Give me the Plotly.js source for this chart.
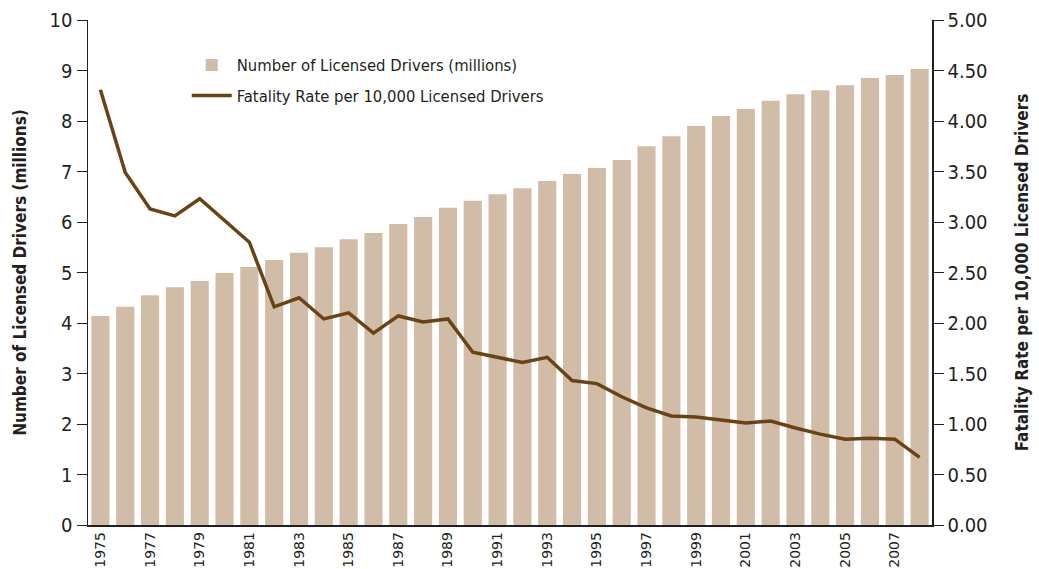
<!DOCTYPE html>
<html>
<head>
<meta charset="utf-8">
<script src="https://cdn.plot.ly/plotly-3.0.1.min.js"></script>
<style>html,body{margin:0;padding:0;background:#fff;}#chart{width:1039px;height:569px;}</style>
</head>
<body>
<div id="chart"></div>
<script>
const years = [1975,1976,1977,1978,1979,1980,1981,1982,1983,1984,1985,1986,1987,1988,1989,1990,1991,1992,1993,1994,1995,1996,1997,1998,1999,2000,2001,2002,2003,2004,2005,2006,2007,2008];
const drivers = [4.14,4.32,4.55,4.71,4.83,4.99,5.11,5.25,5.39,5.50,5.66,5.78,5.96,6.10,6.28,6.42,6.55,6.67,6.81,6.95,7.07,7.23,7.50,7.70,7.90,8.10,8.24,8.40,8.53,8.61,8.71,8.85,8.91,9.03];
const rate = [4.31,3.49,3.13,3.06,3.23,3.02,2.80,2.16,2.25,2.04,2.10,1.90,2.07,2.01,2.04,1.71,1.66,1.61,1.66,1.43,1.40,1.27,1.16,1.08,1.07,1.04,1.01,1.03,0.96,0.90,0.85,0.86,0.85,0.67];
const xTicks = [1975,1977,1979,1981,1983,1985,1987,1989,1991,1993,1995,1997,1999,2001,2003,2005,2007];
const leftTicks = [0,1,2,3,4,5,6,7,8,9,10];
const rightTicks = [0,0.5,1,1.5,2,2.5,3,3.5,4,4.5,5];

const NARROW = "'Liberation Sans Narrow', 'DejaVu Sans Condensed', 'Arial Narrow', sans-serif";

const traces = [
  {type:'bar', x:years, y:drivers, name:'Number of Licensed Drivers (millions)',
   marker:{color:'#D1BCA8'}, legendgroup:'a', hoverinfo:'x+y'},
  {type:'scatter', mode:'lines', x:years, y:rate, yaxis:'y2',
   name:'Fatality Rate per 10,000 Licensed Drivers',
   line:{color:'#6A4314', width:3.5}, legendgroup:'b'}
];

const layout = {
  width:1039, height:569,
  margin:{l:88, r:107, t:20, b:44},
  paper_bgcolor:'#fff', plot_bgcolor:'#fff',
  bargap:0.27,
  showlegend:true,
  legend:{x:0.117, y:0.945, xanchor:'left', yanchor:'top', bgcolor:'rgba(0,0,0,0)',
          font:{family:NARROW, size:16.5, color:'#231F20'}, traceorder:'grouped', tracegroupgap:6,
          itemwidth:40},
  xaxis:{range:[1974.5,2008.5], tickvals:xTicks, ticktext:xTicks.map(String), tickangle:-90,
         showgrid:false, zeroline:false, showline:true, linecolor:'#231F20', linewidth:1.5,
         ticks:'', ticklabelstandoff:0, tickfont:{family:"'DejaVu Sans', sans-serif", size:14, color:'#231F20'}},
  yaxis:{range:[0,10], tickvals:leftTicks, showgrid:false, zeroline:false, showline:true,
         linecolor:'#231F20', linewidth:1.5, ticks:'outside', ticklen:10, tickcolor:'#231F20', tickwidth:1,
         tickfont:{family:NARROW, size:20, color:'#231F20'},
         title:{text:'<b>Number of Licensed Drivers (millions)</b>', font:{family:NARROW, size:17, color:'#231F20'}, standoff:18}},
  yaxis2:{range:[0,5], tickvals:rightTicks, ticktext:rightTicks.map(v=>v.toFixed(2)), overlaying:'y', side:'right',
          showgrid:false, zeroline:false, showline:true, linecolor:'#231F20', linewidth:1.5,
          ticks:'outside', ticklen:10, tickcolor:'#231F20', tickwidth:1,
          tickfont:{family:NARROW, size:20, color:'#231F20'},
          title:{text:'<b>Fatality Rate per 10,000 Licensed Drivers</b>', font:{family:NARROW, size:17, color:'#231F20'}, standoff:29}}
};

Plotly.newPlot('chart', traces, layout, {displayModeBar:false, staticPlot:true});
</script>
</body>
</html>
